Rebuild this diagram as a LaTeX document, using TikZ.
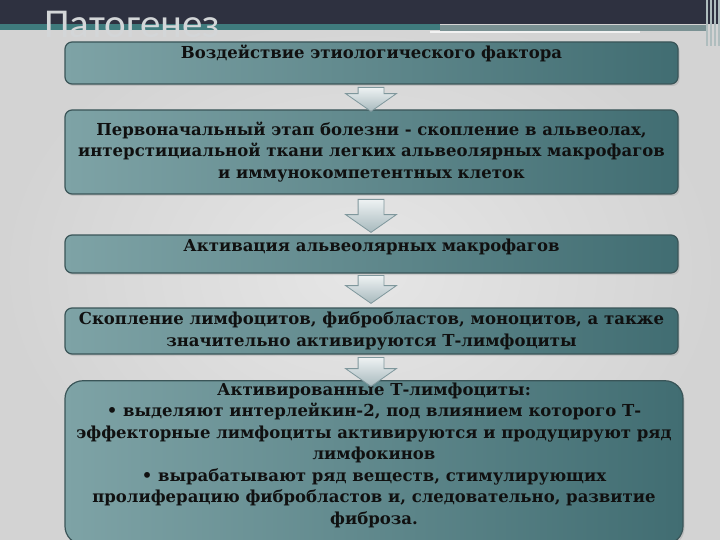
\documentclass[tikz,border=0pt]{standalone}
\usepackage{fontspec}
\setmainfont{DejaVu Serif}
\newfontfamily\titlefont{Carlito}
\usetikzlibrary{shapes.arrows,shadows}
\definecolor{headdark}{HTML}{2E3140}
\definecolor{tealband}{HTML}{3F7B7D}
\definecolor{greyband}{HTML}{7A9193}
\definecolor{boxlight}{HTML}{7EA3A6}
\definecolor{boxdark}{HTML}{416D72}
\definecolor{boxedge}{HTML}{3A5558}
\definecolor{textdark}{HTML}{101010}
\definecolor{arrowlight}{HTML}{EEF2F3}
\definecolor{arrowdark}{HTML}{A7B9BD}
\definecolor{arrowedge}{HTML}{7F979C}
\definecolor{bginner}{HTML}{E6E6E6}
\definecolor{bgouter}{HTML}{D3D3D3}
\definecolor{titlegrey}{HTML}{D3D6D8}
\begin{document}
\begin{tikzpicture}[x=1pt, y=-1pt,
    box/.style={rectangle, rounded corners=7pt, draw=boxedge, line width=1.2pt,
      left color=boxlight, right color=boxdark, minimum width=613pt, inner ysep=2pt,
      align=center, text=textdark, font=\fontsize{16.5}{21.5}\selectfont\bfseries,
      drop shadow={opacity=0.25, shadow xshift=1.5pt, shadow yshift=-2pt}},
    downarrow/.style={single arrow, shape border rotate=270, draw=arrowedge, line width=0.8pt,
      top color=arrowlight, bottom color=arrowdark, inner xsep=12.5pt, inner ysep=0pt,
      single arrow head extend=12.5pt, single arrow head indent=0pt,
      single arrow tip angle=110, anchor=tail},
    title/.style={anchor=base west, inner sep=0pt, text=titlegrey, font=\titlefont\fontsize{41}{41}\selectfont}
  ]
  \useasboundingbox (0,0) rectangle (720,540);

  % Background and header
  \shade[inner color=bginner, outer color=bgouter] (0,0) rectangle (720,540);
  \fill[headdark] (0,0) rectangle (720,24);
  \fill[tealband] (0,24) rectangle (440,30);
  \fill[greyband] (440,25) rectangle (706,31);
  \fill[white, opacity=0.7] (430,31) rectangle (640,33);
  \foreach \xs in {706,710,714,718}
    \fill[greyband!60] (\xs,0) rectangle ++(2,46);

  \node[title] (title) at (44,38) {Патогенез};

  % Boxes
  \node[box, minimum height=42pt, text depth=22pt] (b1) at (371.5,63)
    {Воздействие этиологического фактора};
  \node[box, minimum height=84pt] (b2) at (371.5,152)
    {Первоначальный этап болезни - скопление в альвеолах,\\
     интерстициальной ткани легких альвеолярных макрофагов\\
     и иммунокомпетентных клеток};
  \node[box, minimum height=38pt, text depth=18pt] (b3) at (371.5,254)
    {Активация альвеолярных макрофагов};
  \node[box, minimum height=46pt] (b4) at (371.5,331)
    {Скопление лимфоцитов, фибробластов, моноцитов, а также\\
     значительно активируются Т-лимфоциты};
  \node[box, minimum height=149pt, minimum width=618pt, rounded corners=18pt, text depth=18pt] (b5) at (374,462.5)
    {Активированные Т-лимфоциты:\\
     • выделяют интерлейкин-2, под влиянием которого Т-\\
     эффекторные лимфоциты активируются и продуцируют ряд\\
     лимфокинов\\
     • вырабатывают ряд веществ, стимулирующих\\
     пролиферацию фибробластов и, следовательно, развитие\\
     фиброза.};

  % Arrows
  \node[downarrow, minimum height=24pt] (a1) at (371,87) {};
  \node[downarrow, minimum height=33pt] (a2) at (371,199) {};
  \node[downarrow, minimum height=28pt] (a3) at (371,275) {};
  \node[downarrow, minimum height=29pt] (a4) at (371,357) {};

\end{tikzpicture}
\end{document}
